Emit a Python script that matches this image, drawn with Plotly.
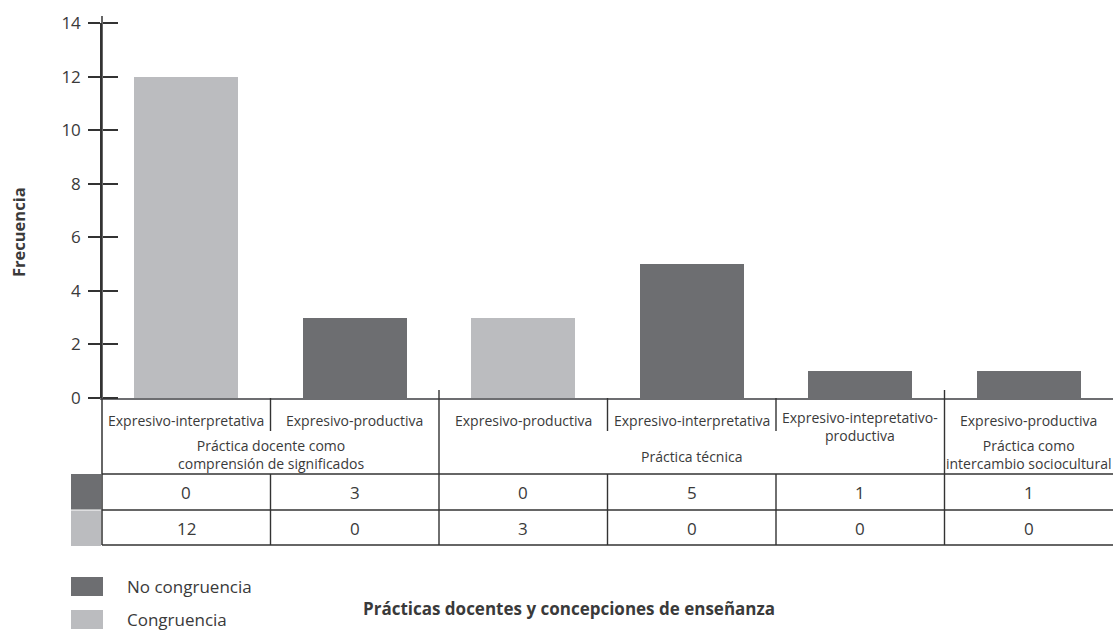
import plotly.graph_objects as go

# ---------------- data ----------------
categories = [
    "Expresivo-interpretativa",
    "Expresivo-productiva",
    "Expresivo-productiva",
    "Expresivo-interpretativa",
    "Expresivo-intepretativo-<br>productiva",
    "Expresivo-productiva",
]
groups = [
    "Práctica docente como<br>comprensión de significados",
    "Práctica técnica",
    "Práctica como<br>intercambio sociocultural",
]
group_sizes = [2, 3, 1]

series_names = ["No congruencia", "Congruencia"]
no_congruencia = [0, 3, 0, 5, 1, 1]
congruencia = [12, 0, 3, 0, 0, 0]

y_ticks = [0, 2, 4, 6, 8, 10, 12, 14]

x_title = "Prácticas docentes y concepciones de enseñanza"
y_title = "Frecuencia"

# ---------------- style / geometry ----------------
DARK = "#6d6e71"
LIGHT = "#bbbcbf"
LINE = "#333333"
TXT = "#3a3a3a"
FONT = "Open Sans"

W, H = 1113, 630
L, R, T, B = 102, 0, 23, 232
PW, PH = W - L - R, H - T - B
N = len(categories)


def fx(X):  # pixel x -> paper
    return (X - L) / PW


def fy(Y):  # pixel y -> paper
    return (H - B - Y) / PH


def cx(i):  # category centre in paper coords
    return (i + 0.5) / N


xs = list(range(N))

fig = go.Figure()
fig.add_trace(go.Bar(x=xs, y=no_congruencia, name=series_names[0],
                     marker=dict(color=DARK, line=dict(width=0)),
                     width=0.62, yaxis="y", showlegend=False))
fig.add_trace(go.Bar(x=xs, y=congruencia, name=series_names[1],
                     marker=dict(color=LIGHT, line=dict(width=0)),
                     width=0.62, yaxis="y2", showlegend=False))

shapes = []
ann = []


def vline(xp, y0, y1, color=LINE, w=1.4):
    shapes.append(dict(type="line", xref="paper", yref="paper",
                       x0=xp, x1=xp, y0=fy(y0), y1=fy(y1),
                       line=dict(color=color, width=w)))


def hline(y, color=LINE, w=1.4):
    shapes.append(dict(type="line", xref="paper", yref="paper",
                       x0=0, x1=1, y0=fy(y), y1=fy(y),
                       line=dict(color=color, width=w)))


def text(x, y, s, size, anchor="center", angle=0):
    ann.append(dict(x=x, y=y, xref="paper", yref="paper", text=s,
                    showarrow=False, xanchor=anchor, yanchor="middle",
                    textangle=angle,
                    font=dict(size=size, color=TXT, family=FONT)))


# table rows
HDR_TOP, ROW1, ROW2, BOT = 398, 474, 510, 545
hline(ROW1)
hline(ROW2)
hline(BOT)
# left border / axis continuation
vline(0, 16, BOT, w=1.5)

# group and sub-category dividers
pos = 0
group_bounds = []
for gi, gs in enumerate(group_sizes):
    start = pos
    end = pos + gs
    group_bounds.append((start, end))
    for k in range(start + 1, end):
        vline(k / N, HDR_TOP, 431)
        vline(k / N, ROW1, BOT)
    if gi < len(group_sizes) - 1:
        vline(end / N, 390, BOT)
    pos = end

# category labels
for i, c in enumerate(categories):
    yy = 420 if "<br>" not in c else 427
    text(cx(i), fy(yy), c, 14)

# group labels
for (s, e), g in zip(group_bounds, groups):
    yy = 456 if "<br>" not in g else 454
    text((s + e) / 2 / N, fy(yy), g, 14)

# table values
for i in range(N):
    text(cx(i), fy(492), str(no_congruencia[i]), 17)
    text(cx(i), fy(528), str(congruencia[i]), 17)

# row swatches in table
for col, (y0, y1) in zip([DARK, LIGHT], [(474, 509.5), (510.5, 546)]):
    shapes.append(dict(type="rect", xref="paper", yref="paper",
                       x0=fx(71), x1=fx(101), y0=fy(y1), y1=fy(y0),
                       fillcolor=col, line=dict(width=0)))

# legend
for col, name, (y0, y1) in zip([DARK, LIGHT], series_names,
                               [(577, 596), (610, 629)]):
    shapes.append(dict(type="rect", xref="paper", yref="paper",
                       x0=fx(71), x1=fx(103), y0=fy(y1), y1=fy(y0),
                       fillcolor=col, line=dict(width=0)))
    text(fx(125), fy((y0 + y1) / 2), name, 17, anchor="left")

# titles
text(fx(569), fy(608), "<b>" + x_title + "</b>", 17)
text(fx(18), fy(232), "<b>" + y_title + "</b>", 16.5, angle=-90)

fig.update_layout(
    width=W, height=H,
    margin=dict(l=L, r=R, t=T, b=B, pad=0),
    paper_bgcolor="white", plot_bgcolor="white",
    barmode="overlay", bargap=0,
    font=dict(family=FONT, color=TXT),
    xaxis=dict(range=[-0.5, N - 0.5], showticklabels=False, ticks="",
               showgrid=False, zeroline=False, showline=True,
               linecolor=DARK, linewidth=2, fixedrange=True),
    yaxis=dict(range=[0, 14], tickvals=y_ticks, ticktext=[str(v) for v in y_ticks],
               ticks="outside", ticklen=12, tickwidth=1.5, tickcolor=LINE,
               showline=True, linecolor=LINE, linewidth=1.5,
               showgrid=False, zeroline=False, ticklabelstandoff=4,
               tickfont=dict(size=17, color=TXT, family=FONT), fixedrange=True),
    yaxis2=dict(range=[0, 14], overlaying="y", anchor="free", position=0,
                side="right", tickvals=y_ticks, ticks="outside", ticklen=15,
                tickwidth=1.5, tickcolor=LINE, showticklabels=False,
                showgrid=False, zeroline=False, showline=False, fixedrange=True),
    shapes=shapes,
    annotations=ann,
)

fig.write_html("out.html",
               config={"displayModeBar": False},
               post_script="document.body.style.margin='0';"
                           "document.body.style.padding='0';")
